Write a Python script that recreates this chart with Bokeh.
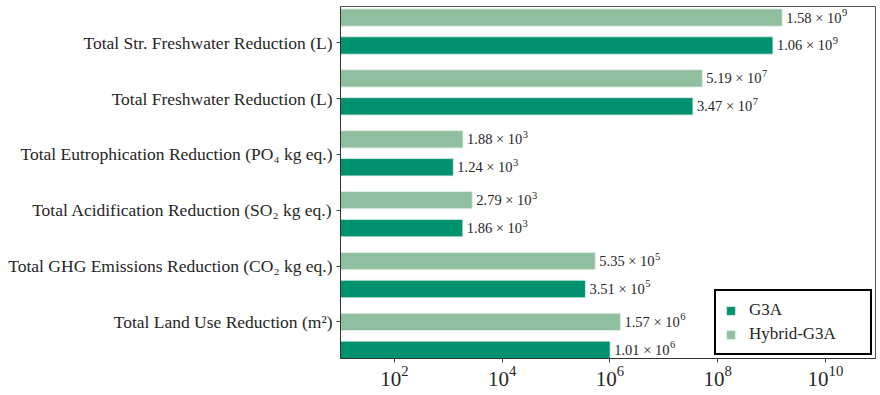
import math
from bokeh.plotting import figure
from bokeh.models import Range1d, FixedTicker, Legend, LegendItem, ColumnDataSource, LogTickFormatter
from bokeh.embed import file_html
from bokeh.resources import INLINE

# Impact categories, bottom to top
categories = [
    "Total Land Use Reduction (m²)",
    "Total GHG Emissions Reduction (CO₂ kg eq.)",
    "Total Acidification Reduction (SO₂ kg eq.)",
    "Total Eutrophication Reduction (PO₄ kg eq.)",
    "Total Freshwater Reduction (L)",
    "Total Str. Freshwater Reduction (L)",
]
g3a = [1.01e6, 3.51e5, 1.86e3, 1.24e3, 3.47e7, 1.06e9]
hybrid = [1.57e6, 5.35e5, 2.79e3, 1.88e3, 5.19e7, 1.58e9]
series_names = ["G3A", "Hybrid-G3A"]
x_tick_values = [1e2, 1e4, 1e6, 1e8, 1e10]

FONT = "Liberation Serif"
TEXT = "#262626"
DARK = "#00916E"
LIGHT = "#8FBF9F"

LABEL_PX = 14.5
# width of "d.dd × 10" in Liberation Serif, in em
MANT_EM = 0.5 + 0.25 + 0.5 + 0.5 + 0.25 + 0.564 + 0.25 + 0.5 + 0.5


def split_sci(v):
    exp = int(math.floor(math.log10(v)))
    mant = v / 10 ** exp
    return f"{mant:.2f} × 10", str(exp)


def make_source(ys, vals):
    parts = [split_sci(v) for v in vals]
    return ColumnDataSource(dict(
        y=ys, v=vals,
        base=[b for b, _ in parts],
        exp=[e for _, e in parts],
    ))


step = 1.09
tick_pos = list(range(len(categories)))
hyb_y = [i * step for i in tick_pos]
g3a_y = [i * step - 0.5 for i in tick_pos]
bar_h = 0.31

src_g = make_source(g3a_y, g3a)
src_h = make_source(hyb_y, hybrid)

p = figure(
    width=880, height=395,
    x_axis_type="log",
    x_range=Range1d(10, 8.5e10),
    y_range=Range1d(-0.655, 5.648),
    output_backend="svg", toolbar_location=None,
    min_border_left=340, min_border_right=5,
    min_border_top=6, min_border_bottom=37,
)
p.grid.visible = False
p.outline_line_color = "#555555"
p.outline_line_width = 1

r_g = p.hbar(y="y", left=1, right="v", height=bar_h, source=src_g,
             fill_color=DARK, line_color="#d8ece3", line_width=0.8)
r_h = p.hbar(y="y", left=1, right="v", height=bar_h, source=src_h,
             fill_color=LIGHT, line_color="#e4f1e8", line_width=0.8)

# value labels: "m.mm × 10" followed by a raised exponent
for src in (src_g, src_h):
    p.text(x="v", y="y", text="base", source=src, x_offset=4,
           text_baseline="middle", text_align="left",
           text_font=FONT, text_font_size=f"{LABEL_PX}px", text_color=TEXT)
    p.text(x="v", y="y", text="exp", source=src,
           x_offset=4 + MANT_EM * LABEL_PX + 0.5, y_offset=-5,
           text_baseline="middle", text_align="left",
           text_font=FONT, text_font_size="10.5px", text_color=TEXT)

# x axis
xa = p.xaxis[0]
xa.ticker = FixedTicker(ticks=x_tick_values, minor_ticks=[])
xa.formatter = LogTickFormatter()
xa.major_label_text_font = FONT
xa.major_label_text_font_size = "21px"
xa.major_label_text_color = TEXT
xa.major_tick_out = 4
xa.major_tick_in = 0
xa.minor_tick_line_color = None
xa.major_label_standoff = 3
xa.axis_line_color = "#333333"
xa.major_tick_line_color = "#444444"

# y axis
ya = p.yaxis[0]
ya.ticker = FixedTicker(ticks=tick_pos, minor_ticks=[])
ya.major_label_overrides = {i: c for i, c in zip(tick_pos, categories)}
ya.major_label_text_font = FONT
ya.major_label_text_font_size = "17.5px"
ya.major_label_text_color = TEXT
ya.major_tick_out = 4
ya.major_tick_in = 0
ya.minor_tick_line_color = None
ya.major_label_standoff = 4
ya.axis_line_color = "#333333"
ya.major_tick_line_color = "#444444"

legend = Legend(
    items=[LegendItem(label=series_names[0], renderers=[r_g]),
           LegendItem(label=series_names[1], renderers=[r_h])],
    location="bottom_right",
    margin=3, padding=9, spacing=4,
    glyph_width=11, glyph_height=11, label_standoff=13,
    label_width=112,
    label_text_font=FONT, label_text_font_size="17px", label_text_color=TEXT,
    border_line_color="black", border_line_width=2, border_line_alpha=1,
    background_fill_color="white", background_fill_alpha=1,
)
p.add_layout(legend)

open("out.html", "w").write(file_html(p, INLINE))
